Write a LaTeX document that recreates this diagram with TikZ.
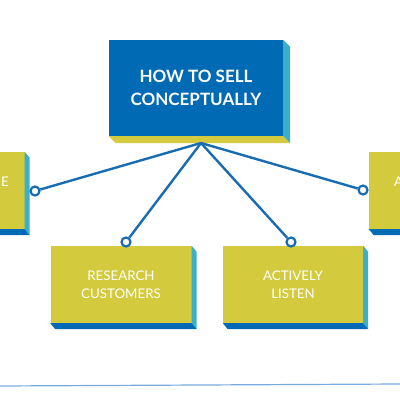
\documentclass[tikz,border=0pt]{standalone}
\usepackage{fontspec}
\setmainfont{Lato}
\usepackage{tikz}
\usetikzlibrary{positioning, calc}
\usepackage{xcolor}

\definecolor{boxblue}{RGB}{0,106,180}
\definecolor{sideteal}{RGB}{59,174,200}
\definecolor{boxyellow}{RGB}{211,203,61}
\definecolor{linkblue}{RGB}{24,108,178}
\definecolor{rulelight}{RGB}{120,170,220}

\tikzset{
    mainbox/.style={rectangle, fill=boxblue, text=white, font=\fontsize{17}{23}\selectfont\bfseries, align=center, inner sep=0pt},
    subbox/.style={rectangle, fill=boxyellow, text=white, font=\fontsize{13.3}{18}\selectfont, align=center, inner sep=0pt, minimum width=141pt, minimum height=77pt},
    hook/.style={circle, draw=linkblue, line width=2.2pt, fill=white, inner sep=0pt, minimum size=9pt},
    link/.style={linkblue, line width=2.4pt}
}

\begin{document}
\begin{tikzpicture}[x=1pt, y=-1pt]
    \useasboundingbox (0,0) rectangle (400,400);
    \clip (0,0) rectangle (400,400);

    \node[mainbox, minimum width=174pt, minimum height=96pt] (how) at (196,88) {HOW TO SELL\\CONCEPTUALLY};
    \fill[sideteal] (how.north east) -- ([shift={(7,7)}]how.north east) -- ([shift={(7,7)}]how.south east) -- (how.south east) -- cycle;
    \fill[boxyellow] (how.south west) -- (how.south east) -- ([shift={(7,7)}]how.south east) -- ([shift={(7,7)}]how.south west) -- cycle;

    \node[subbox] (leftbox) at (-46,190.5) {};
    \node[subbox] (research) at (121,284.5) {RESEARCH\\CUSTOMERS};
    \node[subbox, minimum width=140pt] (listen) at (293,284.5) {ACTIVELY\\LISTEN};
    \node[subbox] (rightbox) at (439.5,190.5) {};
    \node[text=white, font=\fontsize{13.3}{18}\selectfont, inner sep=0pt] (leftword) at (5,181.5) {E};
    \node[text=white, font=\fontsize{13.3}{18}\selectfont, inner sep=0pt, anchor=west] (rightword) at (394,181.5) {A};

    \foreach \b in {leftbox, research, listen, rightbox} {
        \fill[sideteal] (\b.north east) -- ([shift={(5,6)}]\b.north east) -- ([shift={(5,6)}]\b.south east) -- (\b.south east) -- cycle;
        \fill[boxblue] (\b.south west) -- (\b.south east) -- ([shift={(5,6)}]\b.south east) -- ([shift={(5,6)}]\b.south west) -- cycle;
    }

    \coordinate (apex) at (201,143);
    \node[hook] (hleft) at (35,191) {};
    \node[hook] (hresearch) at (126,242) {};
    \node[hook] (hlisten) at (291,242) {};
    \node[hook] (hright) at (363,190) {};
    \foreach \h in {hleft, hresearch, hlisten, hright} {
        \draw[link] (apex) -- (\h);
    }

    \coordinate (ruleleft) at (0,386);
    \coordinate (ruleright) at (400,384);
    \draw[rulelight, line width=1.2pt] (ruleleft) -- (ruleright);
\end{tikzpicture}
\end{document}
